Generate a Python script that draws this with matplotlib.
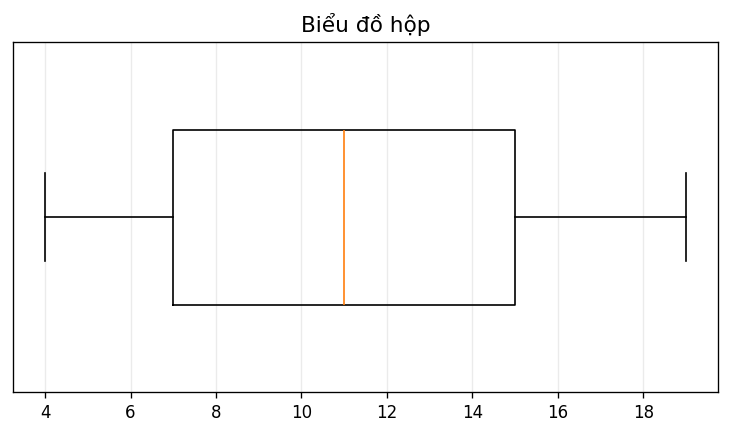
import matplotlib
matplotlib.use("Agg")
import matplotlib.pyplot as plt

label = ["Dữ liệu"]
whislo = [4]
q1 = [7]
med = [11]
q3 = [15]
whishi = [19]

stats = [dict(label=label[i], whislo=whislo[i], q1=q1[i], med=med[i], q3=q3[i],
              whishi=whishi[i], fliers=[]) for i in range(len(label))]

fig, ax = plt.subplots(figsize=(731/120, 436/120), dpi=120)
ax.bxp(stats, vert=False, showfliers=False, widths=0.5)
ax.set_yticks([])
ax.grid(axis="x", alpha=0.25)
ax.set_axisbelow(True)
ax.set_title("Biểu đồ hộp", fontsize=13)
fig.subplots_adjust(left=13/731, right=718/731, top=1-42/436, bottom=1-392/436)
fig.savefig("out.png", dpi=120)
